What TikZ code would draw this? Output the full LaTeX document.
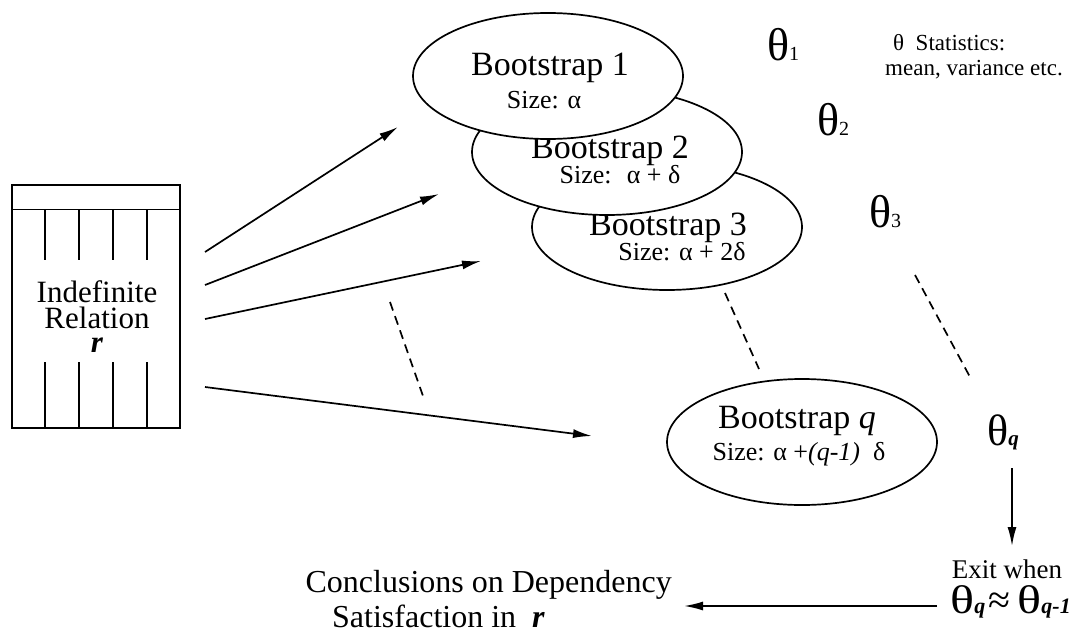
\documentclass[tikz,border=0pt]{standalone}
\usepackage{fontspec}
\usepackage{graphicx}
\setmainfont{Liberation Serif}
\usetikzlibrary{shapes.geometric,arrows.meta}
\tikzset{
  bsell/.style={ellipse, draw, line width=1.7pt, fill=white, minimum width=270pt, minimum height=126pt, inner sep=0pt},
  lbl/.style={inner sep=0pt, anchor=base},
  arr/.style={line width=1.7pt, -{Latex[length=19pt,width=9pt]}},
  dsh/.style={line width=1.7pt, dash pattern=on 9pt off 6pt},
  tbl/.style={line width=1.5pt}
}
\newcommand{\fs}[1]{\fontsize{#1}{#1}\selectfont}
\newcommand{\wth}{\scalebox{1.25}[1]{θ}}
\begin{document}
\begin{tikzpicture}[x=1pt,y=-1pt]
\useasboundingbox (0,0) rectangle (1075,637);
% table
\node[draw, tbl, minimum width=168pt, minimum height=243pt, inner sep=0pt] (rel) at (96,306.5) {};
\draw[tbl] (rel.north west) ++(0,25) coordinate (hl) -- (hl -| rel.east) coordinate (hr);
\foreach \x [count=\i] in {45,79,113,147} {
  \draw[tbl] (\x,210) coordinate (u\i) -- (\x,260) coordinate (v\i);
  \draw[tbl] (\x,362) coordinate (w\i) -- (\x,428) coordinate (z\i);
}
\node[lbl] (t1) at (97,302) {\fs{31}Indefinite};
\node[lbl] (t2) at (97,328) {\fs{31}Relation};
\node[lbl] (t3) at (97,352) {\fs{31}\bfseries\itshape r};
% ellipses
\node[bsell] (b3) at (667,227) {};
\node[lbl] (b3a) at (668,235) {\fs{34}Bootstrap 3};
\node[lbl] (b3b) at (682,260) {\fs{26}Size: α + 2δ};
\node[bsell] (b2) at (607,152) {};
\node[lbl] (b2a) at (610,158) {\fs{34}Bootstrap 2};
\node[lbl] (b2b) at (620,183) {\fs{26}Size:~ α + δ};
\node[bsell] (b1) at (548,76) {};
\node[lbl] (b1a) at (550,75) {\fs{34}Bootstrap 1};
\node[lbl] (b1b) at (544,108) {\fs{26}Size: α};
\node[bsell] (bq) at (802,442) {};
\node[lbl] (bqa) at (797,428) {\fs{34}Bootstrap \textit{q}};
\node[lbl] (bqb) at (799,460) {\fs{26}Size: α +\textit{(q-1)}~ δ};
% arrows from table
\coordinate (s1) at (205,252); \coordinate (e1) at (398,127);
\coordinate (s2) at (205,285); \coordinate (e2) at (439,194);
\coordinate (s3) at (205,319); \coordinate (e3) at (481,261);
\coordinate (s4) at (205,387); \coordinate (e4) at (592,436);
\draw[arr] (s1) -- (e1);
\draw[arr] (s2) -- (e2);
\draw[arr] (s3) -- (e3);
\draw[arr] (s4) -- (e4);
% dashed
\coordinate (d1a) at (390,302); \coordinate (d1b) at (423,396);
\coordinate (d2a) at (725,293); \coordinate (d2b) at (759,369);
\coordinate (d3a) at (915,275); \coordinate (d3b) at (970,377);
\draw[dsh] (d1a) -- (d1b);
\draw[dsh] (d2a) -- (d2b);
\draw[dsh] (d3a) -- (d3b);
% thetas
\node[lbl, anchor=base west] (th1) at (767,60) {\fs{46}θ\fs{20}1};
\node[lbl, anchor=base west] (th2) at (817,135) {\fs{46}θ\fs{20}2};
\node[lbl, anchor=base west] (th3) at (869,227) {\fs{46}θ\fs{20}3};
\node[lbl, anchor=base west] (thq) at (987,445) {\fs{44}θ\fs{21}\bfseries\itshape q};
\node[lbl, anchor=base west] (st1) at (893,50) {\fs{23}θ~ Statistics:};
\node[lbl, anchor=base west] (st2) at (885,75) {\fs{23}mean, variance etc.};
% exit
\node[lbl] (ex1) at (1007,578) {\fs{27}Exit when};
\node[lbl, anchor=base east] (ex2) at (1071,613) {\fs{40}\wth\fs{22}\bfseries\itshape q\,\fs{40}\mdseries\upshape ≈\,\wth\fs{22}\bfseries\itshape q-1};
\coordinate (qa) at (1012,468); \coordinate (qb) at (1012,546);
\draw[arr] (qa) -- (qb);
\coordinate (la) at (937,606); \coordinate (lb) at (684,606);
\draw[arr] (la) -- (lb);
\node[lbl, anchor=base east] (c1) at (672,592) {\fs{32}Conclusions on Dependency};
\node[lbl, anchor=base west] (c2) at (332,627) {\fs{32}Satisfaction in~ \bfseries\itshape r};
\end{tikzpicture}
\end{document}
